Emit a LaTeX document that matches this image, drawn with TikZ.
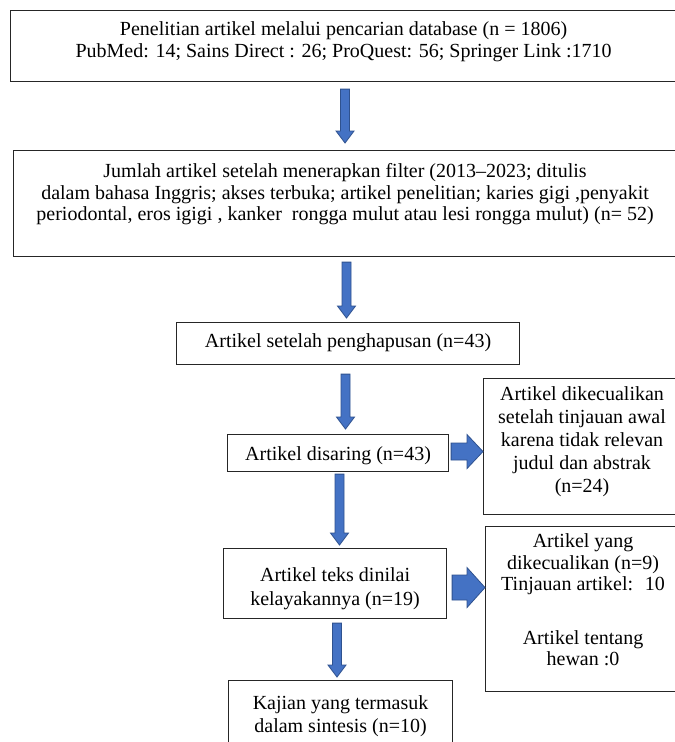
\documentclass[tikz,border=0pt]{standalone}
\usepackage{fontspec}
\setmainfont{Liberation Serif}
\usetikzlibrary{calc}
\definecolor{arrfill}{HTML}{4472C4}
\definecolor{arrline}{HTML}{2F528F}
% #1 width, #2 height, #3 baselineskip, #4 top gap, #5 text
\newcommand\bxt[5]{\parbox[c][#2][t]{#1}{\centering\fontsize{20}{#3}\selectfont\vspace*{#4}\rule{0pt}{16pt}#5\par}}
\newcommand\vblk[2]{\filldraw[blk] let \p1=(#1), \p2=(#2) in
  ({\x1-4.5pt},\y1) -- ({\x1+4.5pt},\y1) -- ({\x1+4.5pt},{\y2+12pt}) -- ({\x1+9pt},{\y2+12pt})
  -- (\x1,\y2) -- ({\x1-9pt},{\y2+12pt}) -- ({\x1-4.5pt},{\y2+12pt}) -- cycle;}
% #1 start, #2 end, #3 shaft half height, #4 head half height, #5 head length
\newcommand\hblk[5]{\filldraw[blk] let \p1=(#1), \p2=(#2) in
  (\x1,{\y1+#3}) -- ({\x2-#5},{\y1+#3}) -- ({\x2-#5},{\y1+#4}) -- (\x2,\y1)
  -- ({\x2-#5},{\y1-#4}) -- ({\x2-#5},{\y1-#3}) -- (\x1,{\y1-#3}) -- cycle;}
\begin{document}
\begin{tikzpicture}[x=1pt,y=-1pt,
  box/.style={draw=black!85, line width=1.1pt, inner sep=0pt, anchor=north west, fill=white},
  blk/.style={fill=arrfill, draw=arrline, line width=0.8pt}]
\useasboundingbox (0,0) rectangle (675,742);
\clip (0,0) rectangle (675,742);
\fill[white] (0,0) rectangle (675,742);

\node[box] (b1) at (10,10) {\bxt{666pt}{71pt}{22pt}{9pt}{Penelitian artikel melalui pencarian database (n = 1806)\\PubMed: 14; Sains Direct : 26; ProQuest: 56; Springer Link :1710}};
\node[box] (b2) at (13,150) {\bxt{663pt}{106pt}{21.5pt}{11pt}{Jumlah artikel setelah menerapkan filter (2013–2023; ditulis\\dalam bahasa Inggris; akses terbuka; artikel penelitian; karies gigi ,penyakit\\periodontal, eros igigi , kanker~ rongga mulut atau lesi rongga mulut) (n= 52)}};
\node[box] (b3) at (176,322) {\bxt{343pt}{42pt}{22pt}{9pt}{Artikel setelah penghapusan (n=43)}};
\node[box] (b4) at (227,434) {\bxt{221pt}{37pt}{22pt}{10pt}{Artikel disaring (n=43)}};
\node[box] (b5) at (483,378) {\bxt{197pt}{136pt}{23pt}{6pt}{Artikel dikecualikan\\setelah tinjauan awal\\karena tidak relevan\\judul dan abstrak\\(n=24)}};
\node[box] (b6) at (223,548) {\bxt{223pt}{70pt}{24pt}{17pt}{Artikel teks dinilai\\kelayakannya (n=19)}};
\node[box] (b7) at (485,526) {\bxt{195pt}{165pt}{21.5pt}{5pt}{Artikel yang\\dikecualikan (n=9)\\Tinjauan artikel:~ 10\\[32pt]Artikel tentang\\hewan :0}};
\node[box] (b8) at (228,680) {\bxt{224pt}{90pt}{23pt}{13pt}{Kajian yang termasuk\\dalam sintesis (n=10)}};

\vblk{$(b1.south west)+(335,7)$}{$(b2.north)+(0,-7)$}
\vblk{$(b2.south west)+(333.5,5)$}{$(b3.north)+(0,-4)$}
\vblk{$(b3.south west)+(169.5,9)$}{$(b4.north)+(0,-5)$}
\vblk{$(b4.south west)+(112.5,2)$}{$(b6.north)+(0,-3)$}
\vblk{$(b6.south west)+(114,4)$}{$(b8.north)+(0,-3)$}
\hblk{$(b4.east)+(2,-1.5)$}{b5.west}{8.5pt}{17pt}{16pt}
\hblk{$(b6.east)+(5,4)$}{b7.west}{12.5pt}{20pt}{18pt}
\end{tikzpicture}
\end{document}
